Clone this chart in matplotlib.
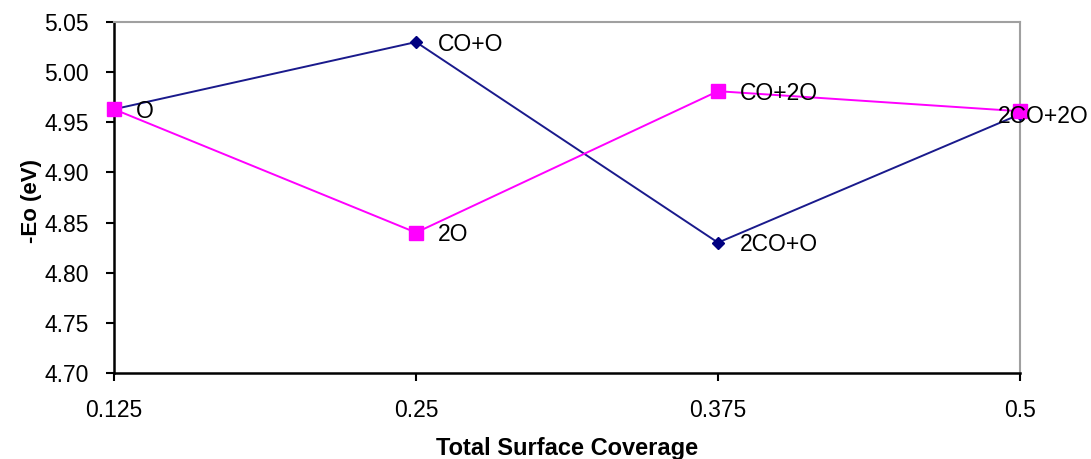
import matplotlib.pyplot as plt

plt.rcParams['font.family'] = ['Liberation Sans', 'DejaVu Sans']

coverage = ['0.125', '0.25', '0.375', '0.5']
eo_co = [4.963, 5.030, 4.830, 4.958]
eo_o = [4.963, 4.840, 4.981, 4.961]
labels_co = [None, 'CO+O', '2CO+O', '2CO+2O']
labels_o = ['O', '2O', 'CO+2O', None]

fig = plt.figure(figsize=(10.91, 4.59), dpi=100)
ax = fig.add_axes([0.1045, 0.1874, 0.8304, 0.7647])

x = range(len(coverage))
ax.plot(x, eo_co, color='#1a1a8c', lw=1.4, marker='D', markersize=6,
        markerfacecolor='#000080', markeredgecolor='#000080',
        clip_on=False, zorder=3)
ax.plot(x, eo_o, color='#ff00ff', lw=1.4, marker='s', markersize=9.5,
        clip_on=False, zorder=4)

# point labels sit to the right of each marker, the last one is pulled left
for series, labels in ((eo_co, labels_co), (eo_o, labels_o)):
    for i, (val, lab) in enumerate(zip(series, labels)):
        if lab is None:
            continue
        dx = -16 if i == len(coverage) - 1 else 16
        ax.annotate(lab, (i, val), xytext=(dx, -1.5), textcoords='offset points',
                    ha='left', va='center', fontsize=16.5, color='black',
                    zorder=5, annotation_clip=False)

ax.set_xlim(0, len(coverage) - 1)
ax.set_ylim(4.70, 5.05)
ax.set_xticks(list(x))
ax.set_xticklabels(coverage)
ax.set_yticks([4.70 + 0.05 * k for k in range(8)])
ax.yaxis.set_major_formatter(plt.FormatStrFormatter('%.2f'))

ax.tick_params(axis='y', direction='out', length=6, width=1.5, pad=12,
               labelsize=16.5, colors='black')
ax.tick_params(axis='x', direction='out', length=6, width=1.5, pad=13,
               labelsize=16.5)

for side in ('left', 'bottom'):
    ax.spines[side].set_color('black')
    ax.spines[side].set_linewidth(1.8)
for side in ('top', 'right'):
    ax.spines[side].set_color('#a0a0a0')
    ax.spines[side].set_linewidth(1.5)

ax.set_ylabel('-Eo (eV)', fontsize=16, fontweight='bold')
ax.yaxis.set_label_coords(-0.079, 0.49)
ax.set_xlabel('Total Surface Coverage', fontsize=17, fontweight='bold')
ax.xaxis.set_label_coords(0.5, -0.182)

fig.savefig('out.png', dpi=100)
